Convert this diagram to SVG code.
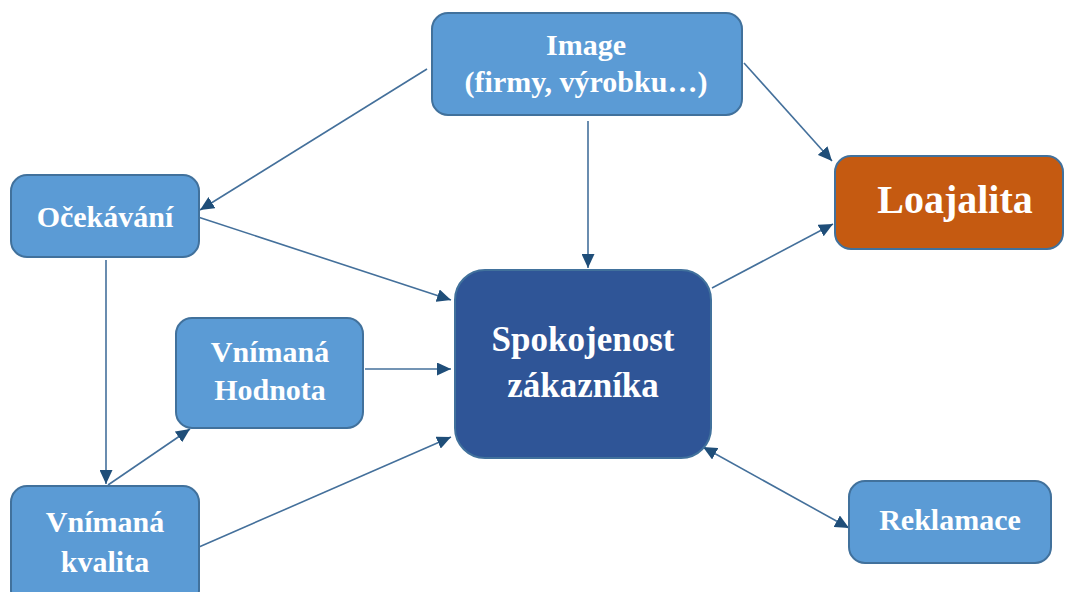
<svg xmlns="http://www.w3.org/2000/svg" width="1065" height="592" viewBox="0 0 1065 592">
<style>
.box{fill:#5B9BD5;stroke:#41719C;stroke-width:2}
.main{fill:#2F5597;stroke:#41719C;stroke-width:2}
.loy{fill:#C55A11;stroke:#41719C;stroke-width:2}
.t{font-family:"Liberation Serif","Times New Roman",serif;font-weight:bold;fill:#FFFFFF;text-anchor:middle}
.s{font-size:30px}
.con line{stroke:#44709B;stroke-width:1.6;fill:none;marker-end:url(#ah)}
</style>
<defs>
<marker id="ah" viewBox="0 0 14 13" refX="14" refY="6.5" markerWidth="14" markerHeight="13" markerUnits="userSpaceOnUse" orient="auto-start-reverse">
<path d="M0,0 L14,6.5 L0,13 z" fill="#1F4E79"/>
</marker>
</defs>
<rect width="1065" height="592" fill="#FFFFFF"/>
<g class="con">
<line x1="427" y1="69" x2="200" y2="210"/>
<line x1="588" y1="121" x2="588" y2="268"/>
<line x1="744" y1="63" x2="832" y2="161"/>
<line x1="198" y1="217" x2="451" y2="300"/>
<line x1="106" y1="260" x2="106" y2="484"/>
<line x1="365" y1="369" x2="451" y2="369"/>
<line x1="108" y1="485" x2="190" y2="429"/>
<line x1="199" y1="547" x2="451" y2="437"/>
<line x1="712" y1="288" x2="833" y2="224"/>
<line x1="849" y1="528" x2="703" y2="447" marker-start="url(#ah)"/>
</g>
<g id="image">
<rect class="box" x="432" y="13" width="310" height="102" rx="16"/>
<text class="t s" x="586" y="55">Image</text>
<text class="t s" x="586" y="92">(firmy, výrobku…)</text>
</g>
<g id="loajalita">
<rect class="loy" x="835" y="156" width="228" height="93" rx="16"/>
<text class="t" x="955" y="213" font-size="40">Loajalita</text>
</g>
<g id="ocekavani">
<rect class="box" x="11" y="175" width="188" height="82" rx="16"/>
<text class="t s" x="105" y="227">Očekávání</text>
</g>
<g id="spokojenost">
<rect class="main" x="455" y="270" width="256" height="188" rx="30"/>
<text class="t" x="583" y="351" font-size="35">Spokojenost</text>
<text class="t" x="583" y="397" font-size="35">zákazníka</text>
</g>
<g id="hodnota">
<rect class="box" x="176" y="318" width="187" height="110" rx="16"/>
<text class="t s" x="270" y="362">Vnímaná</text>
<text class="t s" x="270" y="400">Hodnota</text>
</g>
<g id="kvalita">
<rect class="box" x="11" y="486" width="188" height="120" rx="16"/>
<text class="t s" x="105" y="532">Vnímaná</text>
<text class="t s" x="105" y="572">kvalita</text>
</g>
<g id="reklamace">
<rect class="box" x="849" y="481" width="202" height="82" rx="16"/>
<text class="t s" x="950" y="530">Reklamace</text>
</g>
</svg>
